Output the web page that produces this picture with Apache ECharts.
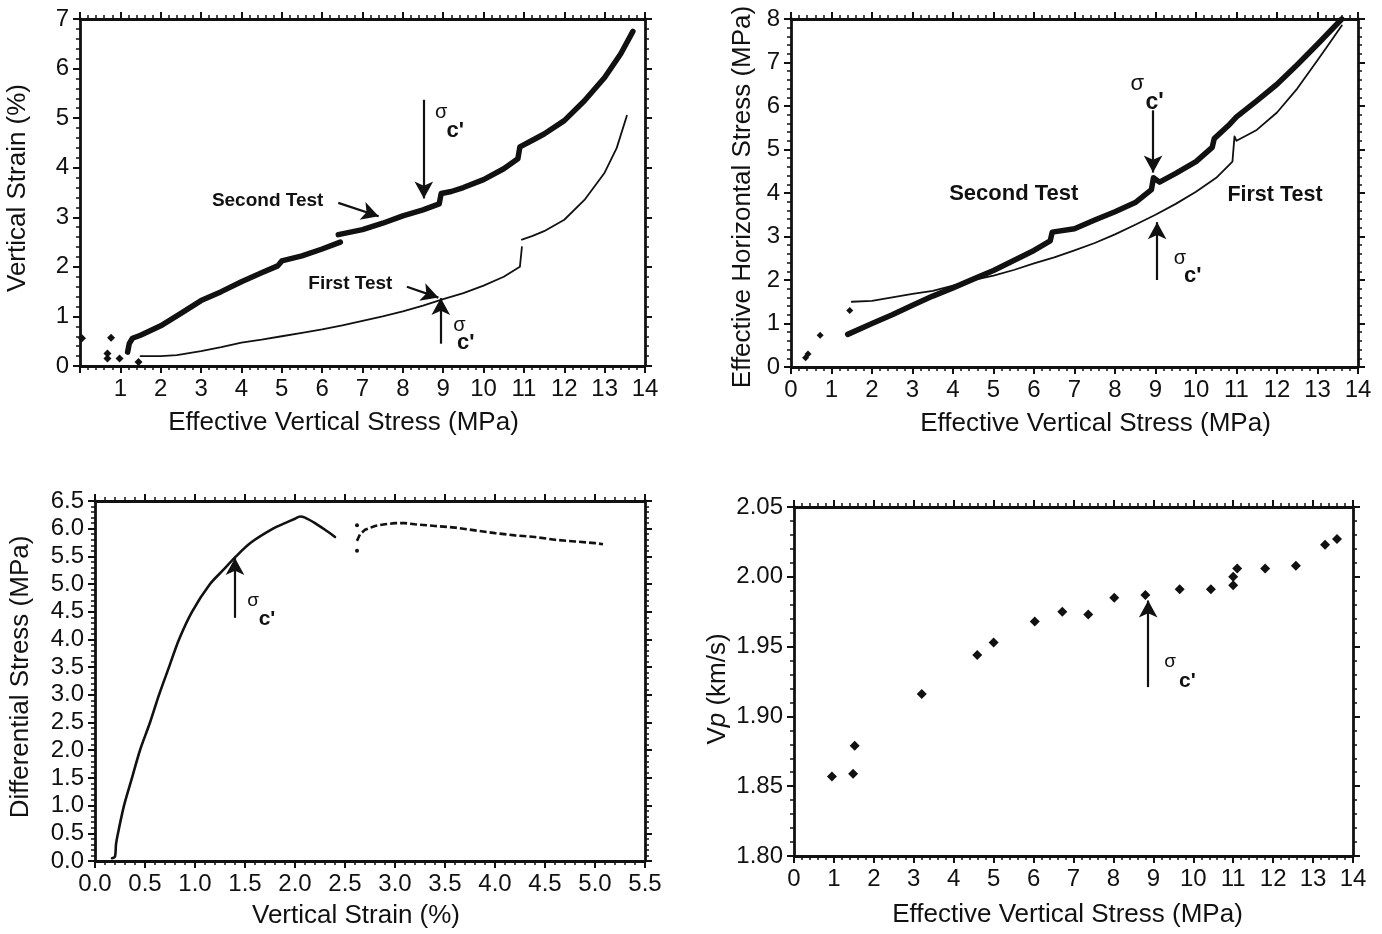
<!DOCTYPE html>
<html>
<head>
<meta charset="utf-8">
<script src="https://cdn.jsdelivr.net/npm/echarts@6/dist/echarts.min.js"></script>
<style>
html,body{margin:0;padding:0;background:#fff;}
#chart{width:1382px;height:934px;}
</style>
</head>
<body>
<div id="chart"></div>
<script>
// ---------------- DATA ----------------
// Panel A: Vertical strain (%) vs effective vertical stress (MPa)
const aSecondTest1 = [[1.18,0.28],[1.22,0.45],[1.3,0.56],[1.5,0.62],[2,0.81],[2.5,1.06],[3,1.32],[3.5,1.5],[4,1.7],[4.5,1.88],[4.9,2.02],[5.0,2.12],[5.5,2.22],[6,2.36],[6.45,2.5]];
const aSecondTest2 = [[6.4,2.65],[7,2.75],[7.5,2.88],[8,3.03],[8.5,3.15],[8.9,3.27],[8.95,3.48],[9.2,3.52],[9.5,3.6],[10,3.76],[10.5,3.98],[10.85,4.18],[10.9,4.42],[11.2,4.55],[11.5,4.68],[12,4.95],[12.5,5.35],[13,5.82],[13.4,6.3],[13.7,6.75]];
const aFirstTest1 = [[1.5,0.2],[2,0.2],[2.4,0.22],[3,0.3],[3.5,0.38],[4,0.47],[4.5,0.53],[5,0.6],[5.5,0.67],[6,0.74],[6.5,0.82],[7,0.91],[7.5,1.0],[8,1.1],[8.5,1.22],[9,1.35],[9.5,1.47],[10,1.62],[10.5,1.8],[10.9,2.0],[10.95,2.4]];
const aFirstTest2 = [[10.95,2.55],[11.2,2.62],[11.5,2.72],[12,2.95],[12.5,3.35],[13,3.9],[13.3,4.4],[13.55,5.05]];
const aLoosePoints = [[0.05,0.56],[0.68,0.25],[0.68,0.15],[0.77,0.57],[0.98,0.15],[1.45,0.08]];

// Panel B: Effective horizontal stress (MPa) vs effective vertical stress (MPa)
const bSecondTest = [[1.4,0.75],[2,1.0],[2.5,1.2],[3,1.42],[3.5,1.63],[4,1.82],[4.5,2.02],[5,2.22],[5.5,2.45],[6,2.68],[6.4,2.9],[6.45,3.1],[7,3.18],[7.5,3.38],[8,3.57],[8.5,3.78],[8.9,4.08],[8.95,4.35],[9.1,4.25],[9.5,4.45],[10,4.72],[10.4,5.05],[10.45,5.25],[10.8,5.55],[11,5.75],[11.5,6.12],[12,6.5],[12.5,6.95],[13,7.42],[13.6,8.0]];
const bFirstTest = [[1.5,1.5],[2,1.52],[2.5,1.6],[3,1.68],[3.5,1.75],[4,1.87],[4.5,2.0],[5,2.1],[5.5,2.23],[6,2.38],[6.5,2.52],[7,2.68],[7.5,2.85],[8,3.05],[8.5,3.27],[9,3.5],[9.5,3.75],[10,4.03],[10.5,4.35],[10.9,4.72],[10.95,5.3],[11.0,5.2],[11.5,5.45],[12,5.85],[12.5,6.4],[13,7.05],[13.3,7.45],[13.6,7.85]];
const bLoosePoints = [[0.36,0.21],[0.42,0.3],[0.72,0.73],[1.45,1.3]];

// Panel C: Differential stress (MPa) vs vertical strain (%)
const cCurve1 = [[0.17,0.05],[0.2,0.08],[0.21,0.3],[0.23,0.5],[0.29,1.0],[0.37,1.5],[0.45,2.0],[0.55,2.5],[0.64,3.0],[0.74,3.5],[0.84,4.0],[0.97,4.5],[1.15,5.0],[1.28,5.25],[1.41,5.5],[1.56,5.75],[1.78,6.0],[1.9,6.1],[2.0,6.18],[2.05,6.22],[2.1,6.2],[2.2,6.1],[2.3,5.98],[2.4,5.85]];
const cCurve2 = [[2.62,5.78],[2.65,5.9],[2.7,5.98],[2.8,6.05],[2.9,6.08],[3.0,6.1],[3.1,6.1],[3.2,6.08],[3.4,6.05],[3.6,6.02],[3.8,5.97],[4.0,5.92],[4.2,5.88],[4.4,5.85],[4.6,5.8],[4.8,5.77],[5.0,5.74],[5.08,5.72]];
const cLoosePoints = [[2.62,6.06],[2.62,5.6]];

// Panel D: Vp (km/s) vs effective vertical stress (MPa)
const dStress = [0.95,1.48,1.52,3.2,4.59,5.0,6.03,6.72,7.37,8.02,8.8,9.66,10.44,11.0,11.0,11.1,11.8,12.57,13.3,13.6];
const dVp     = [1.857,1.859,1.879,1.916,1.944,1.953,1.968,1.975,1.973,1.985,1.987,1.991,1.991,2.0,1.994,2.006,2.006,2.008,2.023,2.027];

// Axis ticks
const stressTicks = {min:0, max:14, interval:1};
const strainTicksA = {min:0, max:7, interval:1};
const hStressTicks = {min:0, max:8, interval:1};
const strainTicksC = {min:0, max:5.5, interval:0.5};
const diffTicks = {min:0, max:6.5, interval:0.5};
const vpTicks = {min:1.80, max:2.05, interval:0.05};

// Annotations (data coordinates)
const annA = {
  secondLabel:[4.65,3.33], secondArrow:[[6.4,3.29],[7.4,3.02]],
  sigTop:[[8.52,5.37],[8.52,3.38]], sigTopS:[8.95,5.12], sigTopC:[9.3,4.75],
  firstLabel:[6.7,1.65], firstArrow:[[8.1,1.6],[8.88,1.38]],
  sigBot:[[8.94,0.45],[8.94,1.37]], sigBotS:[9.4,0.82], sigBotC:[9.56,0.47]
};
const annB = {
  sigTop:[[8.94,5.9],[8.94,4.47]], sigTopS:[8.55,6.5], sigTopC:[8.98,6.08],
  secondLabel:[5.5,3.98], firstLabel:[11.95,3.95],
  sigBot:[[9.04,2.0],[9.04,3.33]], sigBotS:[9.6,2.5], sigBotC:[9.92,2.1]
};
const annC = { sig:[[1.4,4.39],[1.4,5.47]], sigS:[1.58,4.7], sigC:[1.72,4.36] };
const annD = { sig:[[8.87,1.921],[8.87,1.983]], sigS:[9.42,1.939], sigC:[9.85,1.925] };

// ---------------- CHART ----------------
const FONT = '"Liberation Sans", Arial, Helvetica, sans-serif';
const INK = '#111111';
const TICK_FS = 24, NAME_FS = 26;

const grids = [
  {left:80, top:19, width:565, height:347},
  {left:791, top:19, width:567, height:348},
  {left:95, top:501, width:550, height:360},
  {left:794, top:507, width:559, height:349}
];

function baseAxis(g, t, pos, showLabels, fmt) {
  return {
    type:'value', gridIndex:g, position:pos, min:t.min, max:t.max, interval:t.interval,
    axisLine:{show:true, onZero:false, lineStyle:{color:INK, width:2.8}},
    axisTick:{show:true, inside:false, length:7, lineStyle:{color:INK, width:2}},
    minorTick:{show:true, splitNumber:5, length:4, lineStyle:{color:INK, width:1.5}},
    splitLine:{show:false}, minorSplitLine:{show:false},
    axisLabel:{show:showLabels, fontSize:TICK_FS, color:INK, fontFamily:FONT, margin:11,
      formatter:fmt, showMinLabel:true, showMaxLabel:true, hideOverlap:false},
    animation:false
  };
}
function xAxes(g, t, fmt, name, gap, pad) {
  const b = baseAxis(g, t, 'bottom', true, fmt);
  b.name = name; b.nameLocation = 'middle'; b.nameGap = gap;
  b.nameTextStyle = {fontSize:NAME_FS, color:INK, fontFamily:FONT, padding:pad};
  const top = baseAxis(g, t, 'top', false, fmt);
  return [b, top];
}
function yAxes(g, t, fmt, name, gap, pad, rich) {
  const l = baseAxis(g, t, 'left', true, fmt);
  l.name = name; l.nameLocation = 'middle'; l.nameGap = gap;
  l.nameTextStyle = {fontSize:NAME_FS, color:INK, fontFamily:FONT, padding:pad};
  if (rich) l.nameTextStyle.rich = rich;
  const r = baseAxis(g, t, 'right', false, fmt);
  return [l, r];
}
const intFmt = v => String(Math.round(v));
const intFmtNo0 = v => (Math.abs(v) < 1e-9 ? '' : String(Math.round(v)));
const f1 = v => v.toFixed(1);
const f2 = v => v.toFixed(2);

const xAxis = [].concat(
  xAxes(0, stressTicks, intFmtNo0, 'Effective Vertical Stress (MPa)', 44, [0,38,0,0]),
  xAxes(1, stressTicks, intFmt, 'Effective Vertical Stress (MPa)', 44, [0,0,0,42]),
  xAxes(2, strainTicksC, f1, 'Vertical Strain (%)', 42, [0,28,0,0]),
  xAxes(3, stressTicks, intFmt, 'Effective Vertical Stress (MPa)', 46, [0,12,0,0])
);
const vpRich = {
  n:{fontSize:NAME_FS, fontFamily:FONT, color:INK},
  i:{fontSize:NAME_FS, fontFamily:FONT, color:INK, fontStyle:'italic'}
};
const yAxis = [].concat(
  yAxes(0, strainTicksA, intFmt, 'Vertical Strain (%)', 49, [0,0,0,9]),
  yAxes(1, hStressTicks, intFmt, 'Effective Horizontal Stress (MPa)', 35, [0,8,0,0]),
  yAxes(2, diffTicks, f1, 'Differential Stress (MPa)', 61, [0,0,0,8]),
  yAxes(3, vpTicks, f2, '{n|V}{i|p}{n| (km/s)}', 63, [0,15,0,0], vpRich)
);

function lineSeries(g, data, width, extra) {
  return Object.assign({
    type:'line', xAxisIndex:2*g, yAxisIndex:2*g, data:data, symbol:'none', showSymbol:false,
    lineStyle:{color:INK, width:width, cap:'round', join:'round'}, animation:false, silent:true, z:3
  }, extra || {});
}
function dotSeries(g, data, size, symbol) {
  return {type:'scatter', xAxisIndex:2*g, yAxisIndex:2*g, data:data, symbol:symbol||'circle',
    symbolSize:size, itemStyle:{color:INK, opacity:1}, animation:false, silent:true, z:4};
}
function arrowSeries(g, arrows, headSize) {
  return {type:'line', xAxisIndex:2*g, yAxisIndex:2*g, data:[], animation:false, silent:true,
    markLine:{silent:true, animation:false, symbol:['none','arrow'], symbolSize:headSize || [14,17],
      label:{show:false}, emphasis:{disabled:true},
      lineStyle:{color:INK, width:2.2, type:'solid', opacity:1},
      data:arrows.map(a => [{coord:a[0]}, {coord:a[1]}])}};
}
function textSeries(g, items) {
  return {type:'scatter', xAxisIndex:2*g, yAxisIndex:2*g, symbolSize:0, animation:false, silent:true, z:5,
    itemStyle:{opacity:1},
    data:items.map(it => ({value:it.at, name:it.text, label:{show:true, position:'inside', formatter:'{b}',
      fontSize:it.fs, fontWeight:it.bold ? 'bold' : 'normal', color:INK, opacity:1, fontFamily:FONT}}))};
}
function sigmaItems(s, c, fsS, fsC) {
  return [{at:s, text:'σ', fs:fsS, bold:false}, {at:c, text:"c'", fs:fsC, bold:true}];
}

const series = [
  // Panel A
  lineSeries(0, aSecondTest1, 5.5),
  lineSeries(0, aSecondTest2, 5.5),
  lineSeries(0, aFirstTest1, 1.8),
  lineSeries(0, aFirstTest2, 1.8),
  dotSeries(0, aLoosePoints, 8, 'diamond'),
  arrowSeries(0, [annA.secondArrow, annA.sigTop, annA.firstArrow, annA.sigBot]),
  textSeries(0, [
    {at:annA.secondLabel, text:'Second Test', fs:19, bold:true},
    {at:annA.firstLabel, text:'First Test', fs:19, bold:true}
  ].concat(sigmaItems(annA.sigTopS, annA.sigTopC, 20, 22), sigmaItems(annA.sigBotS, annA.sigBotC, 20, 22))),
  // Panel B
  lineSeries(1, bSecondTest, 5.5),
  lineSeries(1, bFirstTest, 1.8),
  dotSeries(1, bLoosePoints, 7, 'diamond'),
  arrowSeries(1, [annB.sigTop, annB.sigBot]),
  textSeries(1, [
    {at:annB.secondLabel, text:'Second Test', fs:22, bold:true},
    {at:annB.firstLabel, text:'First Test', fs:21.5, bold:true}
  ].concat(sigmaItems(annB.sigTopS, annB.sigTopC, 22, 23), sigmaItems(annB.sigBotS, annB.sigBotC, 20, 22))),
  // Panel C
  lineSeries(2, cCurve1, 2.6, {smooth:0.3}),
  lineSeries(2, cCurve2, 2.6, {lineStyle:{color:INK, width:2.6, type:[7,3]}}),
  dotSeries(2, cLoosePoints, 4),
  arrowSeries(2, [annC.sig]),
  textSeries(2, sigmaItems(annC.sigS, annC.sigC, 19, 21)),
  // Panel D
  dotSeries(3, dStress.map((x,i) => [x, dVp[i]]), 10, 'diamond'),
  arrowSeries(3, [annD.sig]),
  textSeries(3, sigmaItems(annD.sigS, annD.sigC, 19, 21))
];

const chart = echarts.init(document.getElementById('chart'), null, {renderer:'canvas'});
chart.setOption({
  backgroundColor:'#ffffff',
  animation:false,
  textStyle:{fontFamily:FONT, color:INK},
  grid:grids.map(g => Object.assign({containLabel:false, show:false}, g)),
  xAxis:xAxis, yAxis:yAxis, series:series
});
</script>
</body>
</html>
